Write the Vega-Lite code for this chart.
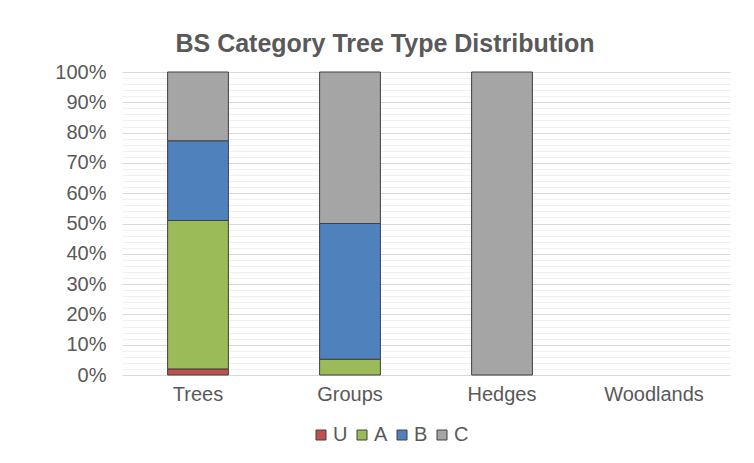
{
  "$schema": "https://vega.github.io/schema/vega-lite/v6.json",
  "width": 608,
  "height": 303,
  "autosize": {"type": "none"},
  "padding": {"left": 122, "top": 72, "right": 24, "bottom": 88},
  "background": "white",
  "title": {
    "text": "BS Category Tree Type Distribution",
    "anchor": "middle",
    "frame": "group",
    "dx": -41,
    "offset": 5,
    "fontSize": 25,
    "fontWeight": "bold",
    "font": "Liberation Sans",
    "color": "#595959"
  },
  "data": {
    "values": [
      {"category": "Trees", "type": "U", "ord": 0, "share": 0.02},
      {"category": "Trees", "type": "A", "ord": 1, "share": 0.49},
      {"category": "Trees", "type": "B", "ord": 2, "share": 0.263},
      {"category": "Trees", "type": "C", "ord": 3, "share": 0.227},
      {"category": "Groups", "type": "A", "ord": 1, "share": 0.052},
      {"category": "Groups", "type": "B", "ord": 2, "share": 0.448},
      {"category": "Groups", "type": "C", "ord": 3, "share": 0.5},
      {"category": "Hedges", "type": "C", "ord": 3, "share": 1.0}
    ]
  },
  "mark": {"type": "bar", "stroke": "#404040", "strokeWidth": 1},
  "encoding": {
    "x": {
      "field": "category",
      "type": "nominal",
      "sort": ["Trees", "Groups", "Hedges", "Woodlands"],
      "scale": {"domain": ["Trees", "Groups", "Hedges", "Woodlands"], "paddingInner": 0.6, "paddingOuter": 0.3},
      "axis": {
        "title": null,
        "labelAngle": 0,
        "labelFontSize": 20,
        "labelFont": "Liberation Sans",
        "labelColor": "#595959",
        "labelPadding": 9,
        "ticks": false,
        "domain": false
      }
    },
    "y": {
      "field": "share",
      "type": "quantitative",
      "stack": "zero",
      "scale": {"domain": [0, 1], "nice": false},
      "axis": {
        "title": null,
        "values": [0,0.02,0.04,0.06,0.08,0.1,0.12,0.14,0.16,0.18,0.2,0.22,0.24,0.26,0.28,0.3,0.32,0.34,0.36,0.38,0.4,0.42,0.44,0.46,0.48,0.5,0.52,0.54,0.56,0.58,0.6,0.62,0.64,0.66,0.68,0.7,0.72,0.74,0.76,0.78,0.8,0.82,0.84,0.86,0.88,0.9,0.92,0.94,0.96,0.98,1],
        "format": ".0%",
        "labelExpr": "round(datum.value*100) % 10 === 0 ? datum.label : ''",
        "labelFontSize": 20,
        "labelFont": "Liberation Sans",
        "labelColor": "#595959",
        "labelPadding": 16,
        "ticks": false,
        "domain": false,
        "grid": true,
        "gridColor": {"condition": {"test": "round(datum.value*100) % 10 === 0", "value": "#d9d9d9"}, "value": "#f0f0f0"},
        "gridWidth": 1
      }
    },
    "color": {
      "field": "type",
      "type": "nominal",
      "scale": {"domain": ["U", "A", "B", "C"], "range": ["#C0504D", "#9BBB59", "#4F81BD", "#A5A5A5"]},
      "legend": {
        "title": null,
        "orient": "none",
        "direction": "horizontal",
        "legendX": 189,
        "legendY": 353,
        "symbolType": "square",
        "symbolSize": 100,
        "symbolStrokeColor": "#404040",
        "symbolStrokeWidth": 1,
        "labelFontSize": 20,
        "labelFont": "Liberation Sans",
        "labelColor": "#595959",
        "labelOffset": 2,
        "columnPadding": 4
      }
    },
    "order": {"field": "ord", "type": "quantitative"}
  },
  "config": {"view": {"stroke": null}}
}
